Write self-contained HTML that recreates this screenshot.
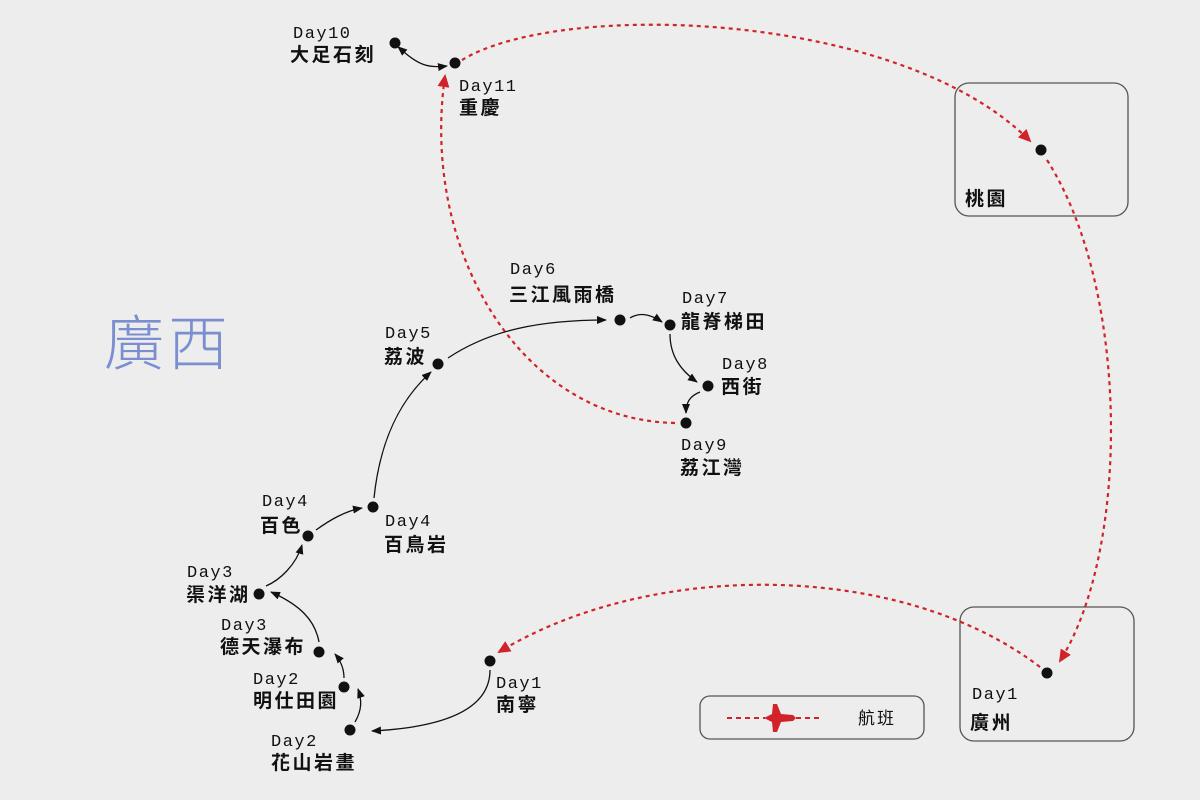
<!DOCTYPE html>
<html><head><meta charset="utf-8"><style>
body{margin:0;background:#ededed;}
svg{display:block;}
.d{font-family:"Liberation Mono","DejaVu Sans Mono",monospace;font-size:17px;fill:#111;letter-spacing:1.5px;}
.c{font-family:"Liberation Sans","Noto Sans CJK TC",sans-serif;font-size:19px;font-weight:bold;fill:#111;letter-spacing:2.5px;}
.k{fill:none;stroke:#111;stroke-width:1.3;}
.r{fill:none;stroke:#d0232a;stroke-width:2.2;stroke-dasharray:4,4;}
</style></head><body>
<svg width="1200" height="800" viewBox="0 0 1200 800">
<defs>
<marker id="ab" markerWidth="10" markerHeight="8" refX="9" refY="4" orient="auto" markerUnits="userSpaceOnUse"><path d="M0,0 L10,4 L0,8 z" fill="#111"/></marker>
<marker id="as" markerWidth="10" markerHeight="8" refX="1" refY="4" orient="auto-start-reverse" markerUnits="userSpaceOnUse"><path d="M0,0 L10,4 L0,8 z" fill="#111"/></marker>
<marker id="ar" markerWidth="13" markerHeight="12" refX="11" refY="6" orient="auto" markerUnits="userSpaceOnUse"><path d="M0,0 L13,6 L0,12 z" fill="#d0232a"/></marker>
</defs>
<text x="104" y="365" font-family="'Noto Sans CJK TC',sans-serif" font-size="60" font-weight="300" fill="#7b8fd0" letter-spacing="4">廣西</text>
<rect x="955" y="83" width="173" height="133" rx="14" fill="none" stroke="#555" stroke-width="1.3"/>
<rect x="960" y="607" width="174" height="134" rx="14" fill="none" stroke="#555" stroke-width="1.3"/>
<rect x="700" y="696" width="224" height="43" rx="10" fill="none" stroke="#555" stroke-width="1.3"/>
<line x1="727" y1="718" x2="765" y2="718" stroke="#d0232a" stroke-width="2" stroke-dasharray="5,4"/>
<line x1="796" y1="718" x2="823" y2="718" stroke="#d0232a" stroke-width="2" stroke-dasharray="5,4"/>
<path d="M764,718 L772,714 L773,704 L777,704 L781,714 L793,715 L796,718 L793,721 L781,722 L777,732 L773,732 L772,722 Z" fill="#d0232a"/>
<text x="858" y="724" font-family="'Noto Sans CJK TC',sans-serif" font-size="17" fill="#111" letter-spacing="2">航班</text>
<path class="r" d="M675,423 C520,420 420,250 445,76" marker-end="url(#ar)"/>
<path class="r" d="M462,60 C560,0 900,10 1030,141" marker-end="url(#ar)"/>
<path class="r" d="M1047,160 C1130,290 1130,550 1060,661" marker-end="url(#ar)"/>
<path class="r" d="M1040,667 C900,560 650,560 499,652" marker-end="url(#ar)"/>
<path class="k" d="M404,52 C420,66 430,68 447,66" marker-start="url(#as)" marker-end="url(#ab)"/>
<path class="k" d="M490,670 C490,715 430,728 372,731" marker-end="url(#ab)"/>
<path class="k" d="M355,722 C362,710 362,700 358,689" marker-end="url(#ab)"/>
<path class="k" d="M344,678 C344,668 340,660 335,654" marker-end="url(#ab)"/>
<path class="k" d="M319,642 C315,620 300,605 271,592" marker-end="url(#ab)"/>
<path class="k" d="M266,586 C280,580 296,565 302,545" marker-end="url(#ab)"/>
<path class="k" d="M316,530 C330,520 345,511 362,508" marker-end="url(#ab)"/>
<path class="k" d="M374,498 C380,440 400,400 431,372" marker-end="url(#ab)"/>
<path class="k" d="M448,358 C490,330 540,320 606,320" marker-end="url(#ab)"/>
<path class="k" d="M630,318 C640,312 650,314 662,322" marker-end="url(#ab)"/>
<path class="k" d="M670,334 C670,355 680,370 697,382" marker-end="url(#ab)"/>
<path class="k" d="M700,392 C690,396 686,402 686,413" marker-end="url(#ab)"/>
<g fill="#111">
<circle cx="395" cy="43" r="5.5"/><circle cx="455" cy="63" r="5.5"/><circle cx="1041" cy="150" r="5.5"/>
<circle cx="1047" cy="673" r="5.5"/><circle cx="490" cy="661" r="5.5"/><circle cx="350" cy="730" r="5.5"/>
<circle cx="344" cy="687" r="5.5"/><circle cx="319" cy="652" r="5.5"/><circle cx="259" cy="594" r="5.5"/>
<circle cx="308" cy="536" r="5.5"/><circle cx="373" cy="507" r="5.5"/><circle cx="438" cy="364" r="5.5"/>
<circle cx="620" cy="320" r="5.5"/><circle cx="670" cy="325" r="5.5"/><circle cx="708" cy="386" r="5.5"/>
<circle cx="686" cy="423" r="5.5"/>
</g>
<text class="d" x="293" y="38">Day10</text><text class="c" x="290" y="61">大足石刻</text>
<text class="d" x="459" y="91">Day11</text><text class="c" x="459" y="114">重慶</text>
<text class="c" x="965" y="205">桃園</text>
<text class="d" x="972" y="699">Day1</text><text class="c" x="970" y="729">廣州</text>
<text class="d" x="496" y="688">Day1</text><text class="c" x="496" y="711">南寧</text>
<text class="d" x="271" y="746">Day2</text><text class="c" x="271" y="769">花山岩畫</text>
<text class="d" x="253" y="684">Day2</text><text class="c" x="253" y="707">明仕田園</text>
<text class="d" x="221" y="630">Day3</text><text class="c" x="220" y="653">德天瀑布</text>
<text class="d" x="187" y="577">Day3</text><text class="c" x="186" y="601">渠洋湖</text>
<text class="d" x="262" y="506">Day4</text><text class="c" x="260" y="532">百色</text>
<text class="d" x="385" y="526">Day4</text><text class="c" x="384" y="551">百鳥岩</text>
<text class="d" x="385" y="338">Day5</text><text class="c" x="384" y="363">荔波</text>
<text class="d" x="510" y="274">Day6</text><text class="c" x="509" y="301">三江風雨橋</text>
<text class="d" x="682" y="303">Day7</text><text class="c" x="681" y="328">龍脊梯田</text>
<text class="d" x="722" y="369">Day8</text><text class="c" x="721" y="393">西街</text>
<text class="d" x="681" y="450">Day9</text><text class="c" x="680" y="474">荔江灣</text>
</svg>
</body></html>
